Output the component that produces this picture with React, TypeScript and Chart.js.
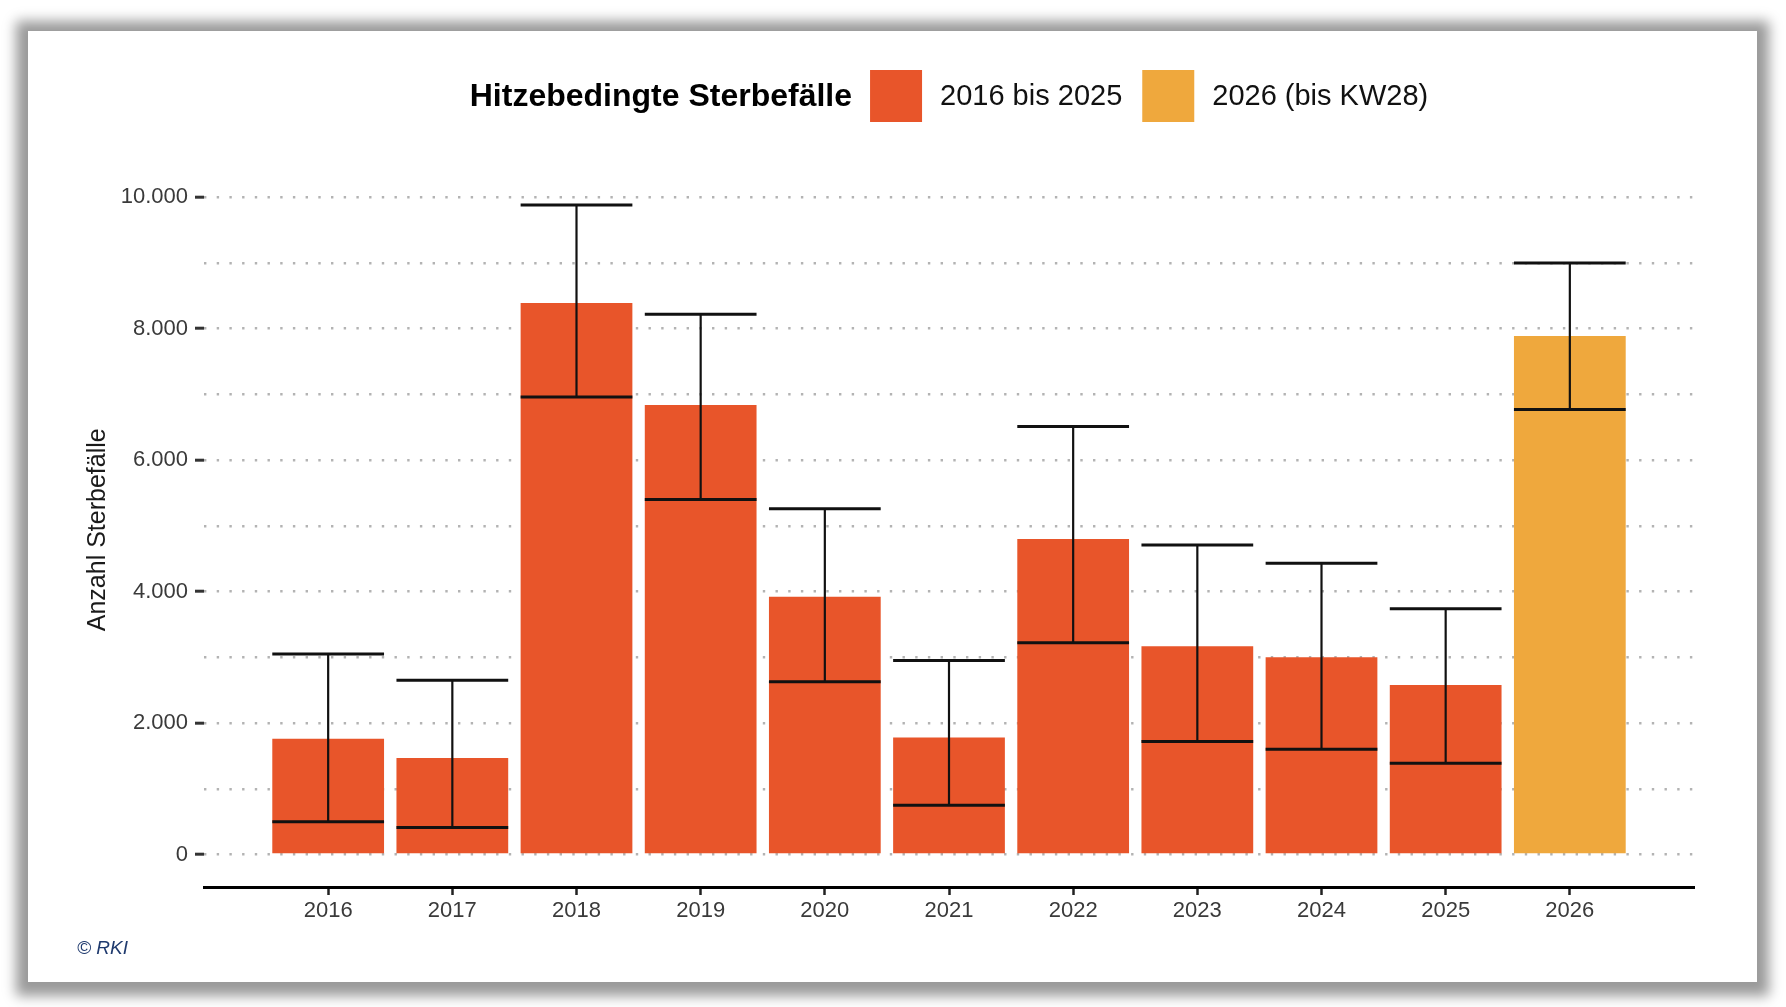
import React, { useEffect, useRef } from "react";
import { Chart, registerables } from "chart.js";

Chart.register(...registerables);

const years = [2016, 2017, 2018, 2019, 2020, 2021, 2022, 2023, 2024, 2025, 2026];
const deaths = [1760, 1470, 8390, 6840, 3920, 1780, 4800, 3170, 3000, 2580, 7890];
const lowerBound = [500, 410, 6960, 5400, 2630, 750, 3220, 1720, 1600, 1390, 6770];
const upperBound = [3050, 2650, 9880, 8220, 5260, 2950, 6510, 4710, 4430, 3740, 9000];

const seriesLabels = ["2016 bis 2025", "2026 (bis KW28)"];
const seriesColors = ["#E8552A", "#EFA83D"];
const legendTitle = "Hitzebedingte Sterbefälle";
const yTitle = "Anzahl Sterbefälle";
const yTicks = [0, 1000, 2000, 3000, 4000, 5000, 6000, 7000, 8000, 9000, 10000];
const sourceNote = "© RKI";

const FONT = "'Liberation Sans', Arial, Helvetica, sans-serif";

// 10000 -> "10.000"
const fmt = (v: number) => String(v).replace(/\B(?=(\d{3})+(?!\d))/g, ".");

const errorBarPlugin = {
  id: "errorBars",
  afterDatasetsDraw(chart: any) {
    const { ctx } = chart;
    const yScale = chart.scales.y;
    chart.data.datasets.forEach((ds: any, di: number) => {
      const meta = chart.getDatasetMeta(di);
      meta.data.forEach((bar: any, j: number) => {
        const i = years.indexOf(ds.data[j].x);
        const half = bar.width / 2;
        const cx = bar.x;
        const yLo = yScale.getPixelForValue(lowerBound[i]);
        const yHi = yScale.getPixelForValue(upperBound[i]);
        ctx.save();
        ctx.strokeStyle = "#111";
        ctx.lineWidth = 2.2;
        ctx.beginPath();
        ctx.moveTo(cx, yLo);
        ctx.lineTo(cx, yHi);
        ctx.stroke();
        ctx.lineWidth = 3;
        ctx.beginPath();
        ctx.moveTo(cx - half, yLo);
        ctx.lineTo(cx + half, yLo);
        ctx.moveTo(cx - half, yHi);
        ctx.lineTo(cx + half, yHi);
        ctx.stroke();
        ctx.restore();
      });
    });
  },
};

// legend in one row: bold title, then the swatches
const legendPlugin = {
  id: "inlineLegend",
  afterDraw(chart: any) {
    const { ctx, chartArea } = chart;
    const box = 52;
    const gap = 18;
    const itemGap = 20;
    const cy = 65;
    ctx.save();
    ctx.textBaseline = "middle";
    ctx.textAlign = "left";
    ctx.font = `bold 32px ${FONT}`;
    const tw = ctx.measureText(legendTitle).width;
    ctx.font = `29px ${FONT}`;
    const lw = seriesLabels.map((t) => ctx.measureText(t).width);
    let total = tw;
    lw.forEach((w, i) => {
      total += (i === 0 ? gap : itemGap) + box + gap + w;
    });
    let x = (chartArea.left + chartArea.right) / 2 - total / 2;
    ctx.fillStyle = "#000";
    ctx.font = `bold 32px ${FONT}`;
    ctx.fillText(legendTitle, x, cy + 1);
    x += tw;
    ctx.font = `29px ${FONT}`;
    seriesLabels.forEach((t, i) => {
      x += i === 0 ? gap : itemGap;
      ctx.fillStyle = seriesColors[i];
      ctx.fillRect(x, cy - box / 2, box, box);
      x += box + gap;
      ctx.fillStyle = "#111";
      ctx.fillText(t, x, cy + 1);
      x += lw[i];
    });

    ctx.font = `italic 19px ${FONT}`;
    ctx.fillStyle = "#1f3a6e";
    ctx.fillText(sourceNote, 49, 918);
    ctx.restore();
  },
};

const HeatDeathsChart: React.FC = () => {
  const chartRef = useRef<HTMLCanvasElement>(null);

  useEffect(() => {
    if (!chartRef.current) return;
    const ctx = chartRef.current.getContext("2d");
    if (!ctx) return;

    const points = years.map((x, i) => ({ x, y: deaths[i] }));

    const myChart = new Chart(ctx, {
      type: "bar",
      data: {
        datasets: [
          {
            label: seriesLabels[0],
            data: points.filter((p) => p.x < 2026),
            backgroundColor: seriesColors[0],
          },
          {
            label: seriesLabels[1],
            data: points.filter((p) => p.x === 2026),
            backgroundColor: seriesColors[1],
          },
        ],
      },
      options: {
        animation: false,
        responsive: true,
        maintainAspectRatio: false,
        layout: {
          padding: { top: 141.6, left: 40, right: 63, bottom: 35 },
        },
        datasets: {
          bar: {
            grouped: false,
            barPercentage: 0.9,
            categoryPercentage: 1,
            borderWidth: 0,
          },
        },
        plugins: {
          legend: { display: false },
          tooltip: { enabled: false },
        },
        scales: {
          x: {
            type: "linear",
            min: 2015,
            max: 2027,
            offset: false,
            afterBuildTicks: (s: any) => {
              s.ticks = years.map((v) => ({ value: v }));
            },
            afterFit: (s: any) => {
              s.height = 60;
            },
            grid: {
              offset: false,
              drawOnChartArea: false,
              drawTicks: true,
              tickLength: 8,
              tickWidth: 2.5,
              tickColor: "#222",
            },
            border: { display: true, color: "#000", width: 3 },
            ticks: {
              color: "#3a3a3a",
              font: { family: FONT, size: 22 },
              padding: 3,
              autoSkip: false,
              maxRotation: 0,
              callback: (v: any) => String(v),
            },
          },
          y: {
            min: -494,
            max: 10374,
            afterBuildTicks: (s: any) => {
              s.ticks = yTicks.map((v) => ({ value: v }));
            },
            afterFit: (s: any) => {
              s.width = 136;
            },
            grid: {
              color: "#b3b3b3",
              lineWidth: 2.4,
              drawTicks: true,
              tickLength: 9,
              tickWidth: 3,
              tickColor: (c: any) =>
                c.tick && c.tick.value % 2000 === 0 ? "#333" : "rgba(0,0,0,0)",
            },
            border: { display: false, dash: [2.4, 10.3] },
            ticks: {
              padding: 7,
              color: "#3a3a3a",
              font: { family: FONT, size: 22 },
              callback: (v: any) => (v % 2000 === 0 ? fmt(v) : ""),
            },
            title: {
              display: true,
              text: yTitle,
              color: "#1a1a1a",
              font: { family: FONT, size: 25 },
              padding: { top: 15, bottom: 0 },
            },
          },
        },
      },
      plugins: [errorBarPlugin, legendPlugin],
    });

    return () => {
      myChart.destroy();
    };
  }, []);

  return <canvas ref={chartRef} />;
};

export default function App() {
  return (
    <div
      style={{
        position: "absolute",
        left: 0,
        top: 0,
        width: 1786,
        height: 1007,
        background: "#fff",
        overflow: "hidden",
      }}
    >
      <div
        style={{
          position: "absolute",
          left: 28,
          top: 31,
          width: 1729,
          height: 951,
          background: "#fff",
          boxShadow: "0 2px 12px 12px #9a9a9a",
        }}
      >
        <HeatDeathsChart />
      </div>
    </div>
  );
}
